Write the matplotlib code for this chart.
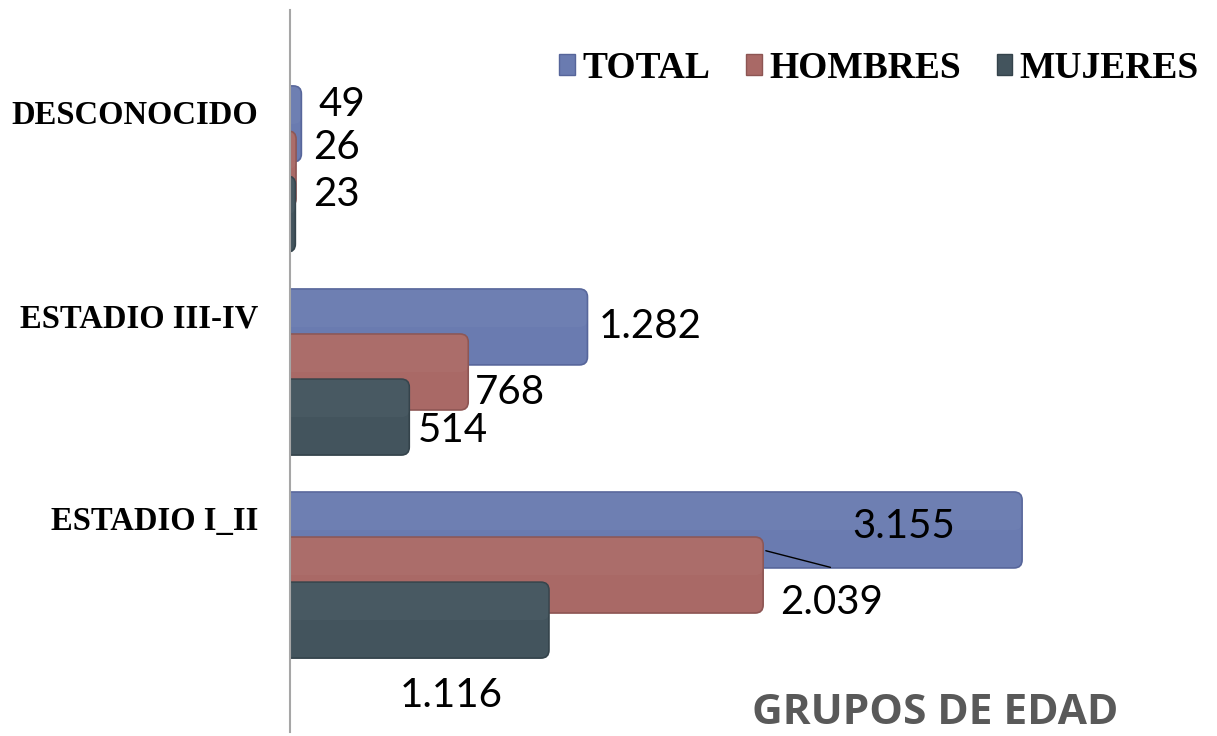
import numpy as np
import matplotlib.pyplot as plt
from matplotlib.patches import FancyBboxPatch, Patch

# datos
categorias = ['ESTADIO I_II', 'ESTADIO III-IV', 'DESCONOCIDO']
series = ['TOTAL', 'HOMBRES', 'MUJERES']
total = [3155, 1282, 49]
hombres = [2039, 768, 26]
mujeres = [1116, 514, 23]
etiquetas_total = ['3.155', '1.282', '49']
etiquetas_hombres = ['2.039', '768', '26']
etiquetas_mujeres = ['1.116', '514', '23']

colores = ['#6a7bb0', '#a96966', '#43545d']
bordes = ['#56659a', '#8d5553', '#34434b']

fig = plt.figure(figsize=(12.17, 7.36), dpi=100)
ax = fig.add_axes([290/1217, 4/736, 927/1217, 722/736])
ax.set_xlim(0, 3995)
ax.set_ylim(-0.773, 2.783)

y = np.arange(len(categorias))
alto = 0.374
paso = 0.222

# offsets of each data label (pixels, left edge / center) as Excel placed them
off_total = [(-170, 3), (11, 0), (17, 19)]
off_hombres = [(17, -27), (7, -20), (17, 21)]
off_mujeres = [(-149, -75), (9, -13), (18, 20)]

# bar geometry -> rounded patches
p0 = ax.transData.transform((0, 0))
p1 = ax.transData.transform((1, 1))
px_x, px_y = p1 - p0
radio = 8 / px_x
aspecto = px_x / px_y

datos = [total, hombres, mujeres]
etiquetas = [etiquetas_total, etiquetas_hombres, etiquetas_mujeres]
offsets = [off_total, off_hombres, off_mujeres]
for k in range(3):
    yy = y + paso * (1 - k)
    barras = ax.barh(yy, datos[k], height=alto, color='none', edgecolor='none')
    for b, v, lab, off in zip(barras, datos[k], etiquetas[k], offsets[k]):
        x0, y0 = -2.5 * radio, b.get_y()
        p = FancyBboxPatch((x0, y0), v - x0, b.get_height(),
                           boxstyle='round,pad=0,rounding_size=%f' % radio,
                           mutation_aspect=aspecto,
                           facecolor=colores[k], edgecolor=bordes[k], linewidth=1.2)
        ax.add_patch(p)
        # soft highlight on the upper half
        h = FancyBboxPatch((x0, y0 + b.get_height() * 0.5), v - x0, b.get_height() * 0.5,
                           boxstyle='round,pad=0,rounding_size=%f' % radio,
                           mutation_aspect=aspecto,
                           facecolor='white', edgecolor='none', alpha=0.03)
        ax.add_patch(h)
        ax.annotate(lab, xy=(v, b.get_y() + b.get_height() / 2), xytext=off,
                    textcoords='offset pixels', ha='left', va='center',
                    fontsize=29, family='Lato', color='black', zorder=5)

# leader line for 2.039
yh = y[0]
ax.annotate('', xy=(hombres[0], yh + 25 / px_y), xytext=(hombres[0] + 70 / px_x, yh + 7 / px_y),
            arrowprops=dict(arrowstyle='-', color='black', lw=1), zorder=6)

# category labels
for yi, cat in zip(y, categorias):
    ax.annotate(cat, xy=(0, yi + paso), xytext=(-32, 8), textcoords='offset pixels',
                ha='right', va='center', fontsize=23.5, family='Liberation Serif',
                fontweight='bold', annotation_clip=False)

for s in ['top', 'right', 'bottom']:
    ax.spines[s].set_visible(False)
ax.spines['left'].set_color('#a6a6a6')
ax.spines['left'].set_linewidth(1.5)
ax.set_xticks([])
ax.set_yticks([])

handles = [Patch(facecolor=colores[k], edgecolor=bordes[k], label=series[k]) for k in range(3)]
fig.legend(handles=handles, loc='center right', bbox_to_anchor=(1199/1217, 1 - 68/736),
           ncol=3, frameon=False, borderpad=0, borderaxespad=0,
           handlelength=0.42, handleheight=0.5, handletextpad=0.2, columnspacing=0.95,
           prop=dict(family='Liberation Serif', weight='bold', size=27))

fig.text(935/1217, 1 - 714/736, 'GRUPOS DE EDAD', ha='center', va='center',
         fontsize=30.5, family='Open Sans', fontweight='bold', color='#595959')

fig.savefig('out.png', dpi=100)
